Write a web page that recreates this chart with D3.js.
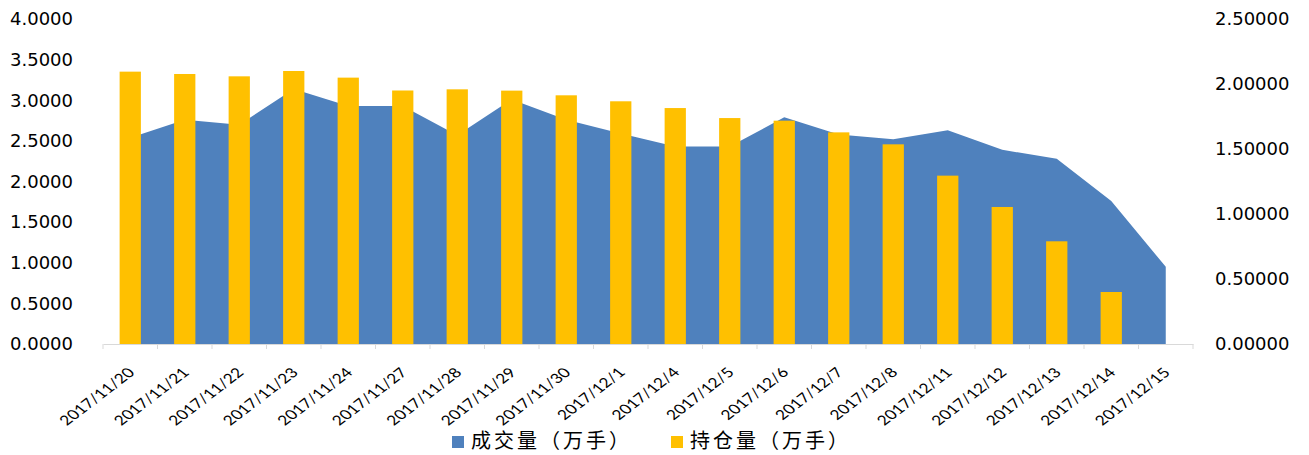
<!DOCTYPE html>
<html>
<head>
<meta charset="utf-8">
<script src="https://cdn.jsdelivr.net/npm/d3@7"></script>
<style>
  html, body { margin: 0; padding: 0; background: #fff; }
  svg { display: block; }
</style>
</head>
<body>
<div id="chart"></div>
<script>
// Dữ liệu
const categories = ["2017/11/20", "2017/11/21", "2017/11/22", "2017/11/23", "2017/11/24",
  "2017/11/27", "2017/11/28", "2017/11/29", "2017/11/30", "2017/12/1", "2017/12/4",
  "2017/12/5", "2017/12/6", "2017/12/7", "2017/12/8", "2017/12/11", "2017/12/12",
  "2017/12/13", "2017/12/14", "2017/12/15"];
// 成交量（万手） - trục trái, vùng
const volume = [2.54, 2.76, 2.70, 3.14, 2.93, 2.93, 2.57, 3.01, 2.76, 2.59, 2.43,
  2.43, 2.79, 2.58, 2.52, 2.63, 2.39, 2.28, 1.76, 0.95];
// 持仓量（万手） - trục phải, cột
const openInterest = [2.095, 2.077, 2.059, 2.100, 2.049, 1.950, 1.959, 1.949, 1.913,
  1.867, 1.815, 1.738, 1.718, 1.628, 1.536, 1.295, 1.054, 0.790, 0.400, null];
const leftTicks = [0, 0.5, 1, 1.5, 2, 2.5, 3, 3.5, 4];
const rightTicks = [0, 0.5, 1, 1.5, 2, 2.5];
const seriesNames = ["成交量（万手）", "持仓量（万手）"];

const W = 1309, H = 455;
const margin = { top: 19, right: 116, bottom: 111, left: 103 };
const innerW = W - margin.left - margin.right;
const innerH = H - margin.top - margin.bottom;

const BLUE = "#4f81bd", GOLD = "#ffc000";

const svg = d3.select("#chart").append("svg")
  .attr("width", W)
  .attr("height", H);

const g = svg.append("g")
  .attr("transform", `translate(${margin.left},${margin.top})`);

// Scales
const x = d3.scaleBand()
  .domain(categories)
  .range([0, innerW])
  .padding(0);

const yL = d3.scaleLinear().domain([0, 4]).range([innerH, 0]);
const yR = d3.scaleLinear().domain([0, 2.5]).range([innerH, 0]);

const cx = d => x(d) + x.bandwidth() / 2;

// Vùng 成交量
const areaData = categories.map((c, i) => ({ c, v: volume[i] }));
g.append("path")
  .datum(areaData)
  .attr("fill", BLUE)
  .attr("d", d3.area()
    .x(d => cx(d.c))
    .y0(yL(0))
    .y1(d => yL(d.v)));

// Cột 持仓量
const barW = x.bandwidth() * 0.39;
const barData = categories.map((c, i) => ({ c, v: openInterest[i] }))
  .filter(d => d.v != null);
g.selectAll(".bar")
  .data(barData)
  .enter().append("rect")
    .attr("class", "bar")
    .attr("x", d => cx(d.c) - barW / 2)
    .attr("width", barW)
    .attr("y", d => yR(d.v))
    .attr("height", d => yR(0) - yR(d.v))
    .attr("fill", GOLD);

// Trục X
const xAxis = g.append("g")
  .attr("transform", `translate(0,${innerH})`)
  .call(d3.axisBottom(x).tickSize(0).tickFormat(""));
xAxis.select(".domain").attr("stroke", "#d9d9d9");

// vạch chia nằm giữa các nhóm
g.append("g")
  .selectAll("line")
  .data(d3.range(categories.length + 1))
  .enter().append("line")
    .attr("x1", i => i * x.step())
    .attr("x2", i => i * x.step())
    .attr("y1", innerH)
    .attr("y2", innerH + 5)
    .attr("stroke", "#d9d9d9");

// nhãn xoay, hình gốc bị kéo giãn theo chiều ngang nên scale x
g.append("g")
  .selectAll("text")
  .data(categories)
  .enter().append("text")
    .attr("transform", d => `translate(${cx(d) + 1},${innerH + 26}) scale(1.3,1) rotate(-45)`)
    .attr("text-anchor", "end")
    .attr("dy", "0.35em")
    .style("font-family", "Lato, 'Open Sans', sans-serif")
    .style("font-size", "13.5px")
    .attr("fill", "#000")
    .text(d => d);

// Trục Y trái
const axisL = g.append("g")
  .call(d3.axisLeft(yL).tickValues(leftTicks).tickSize(0).tickPadding(30)
    .tickFormat(d3.format(".4f")));
axisL.select(".domain").remove();
axisL.selectAll("text")
  .style("font-family", "'DejaVu Sans', sans-serif")
  .style("font-size", "18px")
  .attr("fill", "#000");

// Trục Y phải
const axisR = g.append("g")
  .attr("transform", `translate(${innerW},0)`)
  .call(d3.axisRight(yR).tickValues(rightTicks).tickSize(0).tickPadding(22)
    .tickFormat(d3.format(".5f")));
axisR.select(".domain").remove();
axisR.selectAll("text")
  .style("font-family", "'DejaVu Sans', sans-serif")
  .style("font-size", "18px")
  .attr("fill", "#000");

// Chú giải
const legendItems = [
  { name: seriesNames[0], color: BLUE, x: 452 },
  { name: seriesNames[1], color: GOLD, x: 671 }
];
const legend = svg.append("g").attr("class", "legend");
const li = legend.selectAll("g")
  .data(legendItems)
  .enter().append("g")
    .attr("transform", d => `translate(${d.x},436)`);
li.append("rect")
  .attr("width", 12).attr("height", 12)
  .attr("fill", d => d.color);
li.append("text")
  .attr("x", 19).attr("y", 5)
  .attr("dy", "0.36em")
  .style("font-family", "'Noto Sans CJK SC', sans-serif")
  .style("font-size", "20px")
  .style("letter-spacing", "3px")
  .attr("fill", "#000")
  .text(d => d.name);
</script>
</body>
</html>
